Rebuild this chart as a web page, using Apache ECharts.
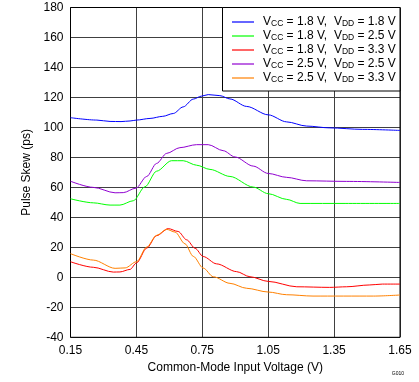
<!DOCTYPE html>
<html><head><meta charset="utf-8">
<script src="https://cdn.jsdelivr.net/npm/echarts@6/dist/echarts.min.js"></script>
<style>html,body{margin:0;padding:0;background:#fff}#c{width:419px;height:382px}</style>
</head><body><div id="c"></div>
<script>
// Data (x in V, y in ps)
const xTickLabels = ['0.15','0.45','0.75','1.05','1.35','1.65'];
const seriesNames = ['1.8/1.8','1.8/2.5','1.8/3.3','2.5/2.5','2.5/3.3'];
const legendLabels = [
  'V{s|CC} = 1.8 V,  V{s|DD} = 1.8 V',
  'V{s|CC} = 1.8 V,  V{s|DD} = 2.5 V',
  'V{s|CC} = 1.8 V,  V{s|DD} = 3.3 V',
  'V{s|CC} = 2.5 V,  V{s|DD} = 2.5 V',
  'V{s|CC} = 2.5 V,  V{s|DD} = 3.3 V'
];
const colors = ['#0000ff','#00ff00','#ff0000','#9000d0','#ff8000'];

const blueX = [0.15,0.27,0.33,0.38,0.421,0.45,0.512,0.57,0.618,0.663,0.709,0.747,0.777,0.83,0.876,0.952,1.05,1.134,1.225,1.33,1.48,1.65];
const blueY = [106.5,104.9,104.0,103.9,104.3,104.9,106.0,107.4,109.3,113.7,118.9,120.9,121.9,121.2,119.0,114.0,108.4,103.7,100.9,99.7,98.7,98.0];

const greenX = [0.15,0.254,0.33,0.375,0.436,0.489,0.542,0.61,0.663,0.724,0.785,0.876,0.982,1.05,1.134,1.195,1.40,1.65];
const greenY = [52.4,49.7,48.2,48.2,51.1,60.4,70.8,77.8,77.8,74.8,72.0,67.3,60.2,55.8,52.0,49.3,49.3,49.3];

const redX = [0.15,0.254,0.345,0.375,0.421,0.451,0.497,0.542,0.595,0.64,0.679,0.717,0.754,0.815,0.906,0.967,1.05,1.18,1.33,1.407,1.51,1.57,1.65];
const redY = [10.4,6.7,3.5,3.6,5.3,9.7,19.5,27.8,32.5,30.6,25.0,19.4,13.9,9.0,3.8,0.4,-2.7,-6.3,-6.7,-6.3,-5.1,-4.5,-4.5];

const purpleX = [0.15,0.254,0.353,0.39,0.448,0.497,0.542,0.588,0.648,0.724,0.777,0.845,0.899,0.982,1.05,1.134,1.225,1.407,1.65];
const purpleY = [64.1,60.0,56.4,56.5,59.5,67.3,76.0,82.7,86.5,88.5,88.5,84.5,80.3,74.2,69.3,66.7,64.4,64.0,63.3];

const orangeX = [0.15,0.254,0.353,0.399,0.451,0.497,0.542,0.588,0.626,0.671,0.709,0.754,0.80,0.876,0.952,1.05,1.134,1.254,1.53,1.65];
const orangeY = [15.8,11.5,6.0,6.3,10.5,20.2,28.0,32.0,30.2,22.4,14.0,6.2,0.4,-4.0,-7.3,-9.8,-11.6,-12.5,-12.5,-11.8];

const X0 = 0.15; // axis origin offset so ticks fall on 0.15, 0.45, ...
function pts(xs, ys){ return xs.map((x,i)=>[+(x - X0).toFixed(4), ys[i]]); }
const allX = [blueX, greenX, redX, purpleX, orangeX];
const allY = [blueY, greenY, redY, purpleY, orangeY];

const chart = echarts.init(document.getElementById('c'), null, {renderer:'canvas'});
const font = 'Liberation Sans, Arial, Helvetica, sans-serif';
chart.setOption({
  animation:false,
  backgroundColor:'#fff',
  grid:{left:70.5,right:19,top:7.5,bottom:44.7,show:true,borderColor:'#000',borderWidth:1,backgroundColor:'transparent',z:3},
  xAxis:{type:'value',min:0,max:1.5,interval:0.3,
    name:'Common-Mode Input Voltage (V)',nameLocation:'middle',nameGap:23,
    nameTextStyle:{fontFamily:font,fontSize:12,color:'#000'},
    axisLine:{show:false},axisTick:{show:false},
    axisLabel:{color:'#000',fontFamily:font,fontSize:12,margin:7,formatter:v=>xTickLabels[Math.round(v/0.3)]},
    splitLine:{show:true,lineStyle:{color:'#404040',width:1}}},
  yAxis:{type:'value',min:-40,max:180,interval:20,
    name:'Pulse Skew (ps)',nameLocation:'middle',nameGap:36,
    nameTextStyle:{fontFamily:font,fontSize:12,color:'#000'},
    axisLine:{show:false},axisTick:{show:false},
    axisLabel:{color:'#000',fontFamily:font,fontSize:12,margin:7},
    splitLine:{show:true,lineStyle:{color:'#404040',width:1}}},
  legend:{orient:'vertical',left:222,top:7,z:10,
    padding:[8,10,7,10],itemGap:0,itemWidth:22,itemHeight:1.2,icon:'rect',
    data:seriesNames,
    formatter:name=>legendLabels[seriesNames.indexOf(name)],
    textStyle:{fontFamily:font,fontSize:12,color:'#000',lineHeight:14,padding:[0,0,0,4],
      rich:{s:{fontFamily:font,fontSize:8.5,color:'#000',lineHeight:14,padding:[4,0,0,0]}}}},
  graphic:[
    {type:'rect',z:8,shape:{x:222.5,y:7.5,width:177.5,height:83.5},style:{fill:'#fff',stroke:'#000',lineWidth:1}},
    {type:'text',right:15,top:371,style:{text:'G010',fontFamily:font,fontSize:5,fill:'#000'}}
  ],
  series: seriesNames.map((n,i)=>({
    name:n,type:'line',data:pts(allX[i],allY[i]),showSymbol:false,smooth:0.3,smoothMonotone:'x',
    color:colors[i],lineStyle:{color:colors[i],width:1},z:5
  }))
});
</script></body></html>
